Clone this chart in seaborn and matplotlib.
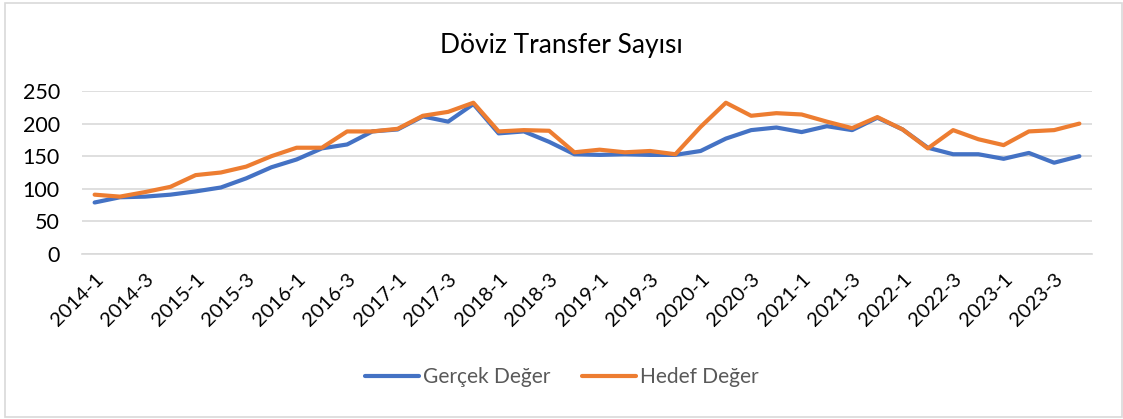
import matplotlib
matplotlib.use("Agg")
import matplotlib.pyplot as plt
import seaborn as sns
import pandas as pd
from matplotlib.patches import Rectangle
from matplotlib.lines import Line2D

quarters = [f"{y}-{q}" for y in range(2014, 2024) for q in range(1, 5)]

gercek = [79, 87, 88, 91, 96, 102, 116, 133, 145, 162, 168, 188, 191, 211,
          203, 230, 185, 188, 172, 153, 152, 153, 152, 152, 158, 177, 190, 194,
          187, 196, 190, 209, 191, 163, 153, 153, 146, 155, 140, 150]
hedef = [91, 88, 95, 103, 121, 125, 134, 150, 163, 163, 188, 188, 192, 212,
         218, 232, 188, 190, 189, 156, 160, 156, 158, 153, 195, 232, 212, 216,
         214, 203, 193, 210, 191, 162, 190, 176, 167, 188, 190, 200]

series_names = ["Gerçek Değer", "Hedef Değer"]
colors = ["#4472C4", "#ED7D31"]
title = "Döviz Transfer Sayısı"

df = pd.DataFrame({"Çeyrek": quarters * 2,
                   "Değer": gercek + hedef,
                   "Seri": [series_names[0]] * len(quarters) + [series_names[1]] * len(quarters)})
df["x"] = list(range(len(quarters))) * 2

sns.set_theme(style="white")
plt.rcParams["font.family"] = ["Lato", "DejaVu Sans"]

fig = plt.figure(figsize=(11.23, 4.19), dpi=100)
ax = fig.add_axes([82 / 1123, 1 - 254 / 419, (1092 - 82) / 1123, (254 - 91) / 419])

sns.lineplot(data=df, x="x", y="Değer", hue="Seri", palette=colors, linewidth=3.0,
             ax=ax, legend=False, solid_capstyle="round")

ax.set_xlim(-0.5, len(quarters) - 0.5)
ax.set_ylim(0, 250)
ax.set_yticks([0, 50, 100, 150, 200, 250])
ax.yaxis.grid(True, color="#D9D9D9", linewidth=1.2)
ax.set_axisbelow(True)
for s in ax.spines.values():
    s.set_visible(False)
ax.spines["bottom"].set_visible(True)
ax.spines["bottom"].set_color("#D9D9D9")
ax.spines["bottom"].set_linewidth(1.2)

ticks = list(range(0, len(quarters), 2))
ax.set_xticks(ticks)
ax.set_xticklabels([quarters[i] for i in ticks], rotation=45, ha="right",
                   rotation_mode="anchor", fontsize=14.5, color="#000000")
ax.tick_params(axis="x", length=0, pad=12)
ax.tick_params(axis="y", length=0, pad=16, labelsize=15.5, labelcolor="#000000")
ax.set_xlabel("")
ax.set_ylabel("")

fig.text(0.5, 1 - 45 / 419, title, ha="center", va="center", fontsize=19, color="#000000")

handles = [Line2D([0], [0], color=c, lw=3.0, solid_capstyle="round") for c in colors]
leg = fig.legend(handles, series_names, loc="center", bbox_to_anchor=(0.5, 1 - 377 / 419),
                 ncol=2, frameon=False, fontsize=15, handlelength=2.6, handletextpad=0.2,
                 columnspacing=1.5)
for t in leg.get_texts():
    t.set_color("#595959")

fig.patches.append(Rectangle((5 / 1123, 2 / 419), 1 - 6 / 1123, 1 - 5 / 419,
                             transform=fig.transFigure, fill=False,
                             edgecolor="#D9D9D9", linewidth=1.2))

fig.savefig("out.png", dpi=100)
